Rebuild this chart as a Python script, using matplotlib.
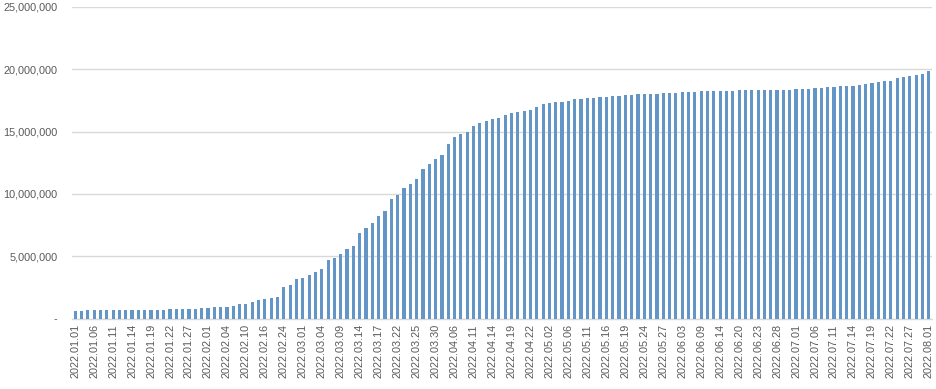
import matplotlib
matplotlib.use("Agg")
import matplotlib.pyplot as plt
from matplotlib.ticker import FuncFormatter

# Cumulative values (millions), one bar per reporting date
values_m = [
    0.63, 0.64, 0.65, 0.65, 0.66, 0.66, 0.67, 0.67, 0.68, 0.68,
    0.69, 0.69, 0.70, 0.71, 0.72, 0.73, 0.74, 0.75, 0.76, 0.78,
    0.82, 0.86, 0.90, 0.93, 0.96, 1.02, 1.13, 1.18, 1.31, 1.45,
    1.56, 1.64, 1.73, 2.50, 2.68, 3.16, 3.26, 3.49, 3.73, 3.97,
    4.70, 4.86, 5.18, 5.58, 5.82, 6.86, 7.26, 7.66, 8.22, 8.63,
    9.59, 9.91, 10.47, 10.79, 11.20, 12.00, 12.40, 12.78, 13.12, 14.03,
    14.57, 14.81, 14.99, 15.45, 15.69, 15.85, 16.01, 16.09, 16.33, 16.49,
    16.57, 16.65, 16.73, 16.97, 17.21, 17.27, 17.38, 17.40, 17.46, 17.60,
    17.63, 17.70, 17.72, 17.78, 17.80, 17.86, 17.88, 17.94, 17.96, 18.01,
    18.02, 18.03, 18.04, 18.08, 18.10, 18.11, 18.16, 18.18, 18.19, 18.24,
    18.25, 18.26, 18.27, 18.27, 18.28, 18.32, 18.33, 18.34, 18.34, 18.35,
    18.35, 18.36, 18.36, 18.37, 18.42, 18.43, 18.44, 18.50, 18.51, 18.58,
    18.60, 18.66, 18.67, 18.68, 18.70, 18.82, 18.90, 18.98, 19.05, 19.08,
    19.30, 19.38, 19.46, 19.54, 19.62, 19.86,
]
values = [v * 1_000_000 for v in values_m]

# Labels shown on the axis (every third reporting date)
tick_labels = [
    "2022.01.01", "2022.01.06", "2022.01.11", "2022.01.14", "2022.01.19",
    "2022.01.22", "2022.01.27", "2022.02.01", "2022.02.04", "2022.02.10",
    "2022.02.16", "2022.02.24", "2022.03.01", "2022.03.04", "2022.03.09",
    "2022.03.14", "2022.03.17", "2022.03.22", "2022.03.25", "2022.03.30",
    "2022.04.06", "2022.04.11", "2022.04.14", "2022.04.19", "2022.04.22",
    "2022.05.02", "2022.05.06", "2022.05.11", "2022.05.16", "2022.05.19",
    "2022.05.24", "2022.05.27", "2022.06.03", "2022.06.09", "2022.06.14",
    "2022.06.20", "2022.06.23", "2022.06.28", "2022.07.01", "2022.07.06",
    "2022.07.11", "2022.07.14", "2022.07.19", "2022.07.22", "2022.07.27",
    "2022.08.01",
]
y_ticks = [0, 5_000_000, 10_000_000, 15_000_000, 20_000_000, 25_000_000]

plt.rcParams['font.family'] = ['Liberation Sans', 'DejaVu Sans']

W, H = 937, 389
fig = plt.figure(figsize=(W / 100, H / 100), dpi=100)
ax = fig.add_axes([72 / W, 1 - 318.5 / H, (932 - 72) / W, (318.5 - 7) / H])

x = list(range(len(values)))
ax.bar(x, values, width=0.5, color='#6396c6', zorder=3)

ax.set_xlim(-0.5, len(values) - 0.5)
ax.set_ylim(0, 25_000_000)
ax.set_yticks(y_ticks)
ax.yaxis.set_major_formatter(FuncFormatter(lambda v, p: '-' if v == 0 else f'{int(v):,}'))
ax.grid(axis='y', color='#d9d9d9', linewidth=1, zorder=0)
ax.set_axisbelow(True)

ax.set_xticks(x[::3])
ax.set_xticklabels(tick_labels, rotation=90)

for s in ['top', 'right', 'left']:
    ax.spines[s].set_visible(False)
ax.spines['bottom'].set_color('#d9d9d9')
ax.spines['bottom'].set_linewidth(1)

ax.tick_params(axis='both', length=0, colors='#595959', labelsize=7.8)
ax.tick_params(axis='y', pad=10.5)
ax.tick_params(axis='x', pad=4)

fig.savefig('out.png', dpi=100)
